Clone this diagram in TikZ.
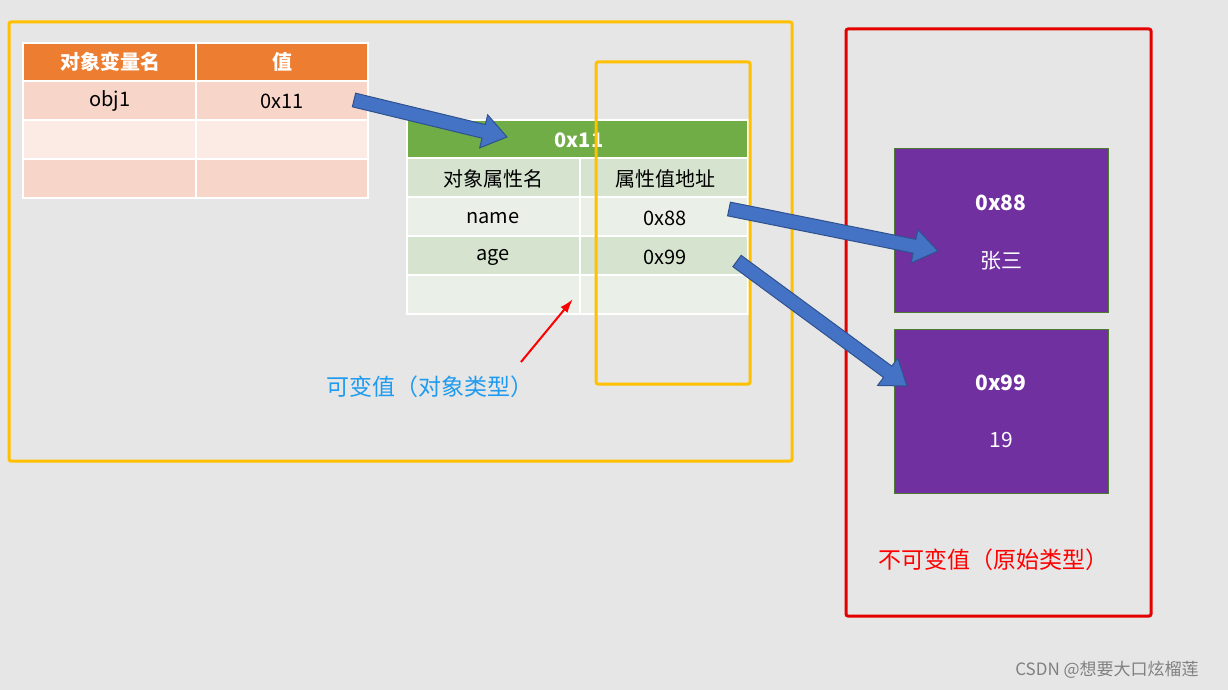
\documentclass[tikz,border=0pt]{standalone}
\usepackage{fontspec}
\setmainfont{Noto Sans CJK SC}
\usetikzlibrary{calc,arrows.meta}
\definecolor{bg}{HTML}{E6E6E6}
\definecolor{yel}{HTML}{FFC000}
\definecolor{ora}{HTML}{ED7D31}
\definecolor{oraA}{HTML}{F8D5C9}
\definecolor{oraB}{HTML}{FCEAE5}
\definecolor{grn}{HTML}{70AD47}
\definecolor{grnA}{HTML}{D6E3CF}
\definecolor{grnB}{HTML}{EAF0E7}
\definecolor{pur}{HTML}{7030A0}
\definecolor{blu}{HTML}{4472C4}
\definecolor{bludk}{HTML}{2F528F}
\definecolor{lbl}{HTML}{1E9BF0}
\newcommand{\blockarrow}[2]{%
  \coordinate (h) at ($(#2)!24pt!(#1)$);
  \fill[blu,draw=bludk,line width=1pt] ($(#1)!7pt!90:(#2)$) -- ($(h)!7pt!-90:(#1)$) -- ($(h)!17pt!-90:(#1)$) -- (#2) -- ($(h)!17pt!90:(#1)$) -- ($(h)!7pt!90:(#1)$) -- ($(#1)!7pt!-90:(#2)$) -- cycle;}
\begin{document}
\begin{tikzpicture}[x=1pt,y=-1pt,
  cell/.style={draw=white,line width=1.5pt},
  txt/.style={font=\fontsize{20}{24}\selectfont,text=black},
  htxt/.style={font=\fontsize{20}{24}\selectfont\bfseries,text=white},
  ptxt/.style={font=\fontsize{21}{24}\selectfont,text=white}]
\fill[bg] (0,0) rectangle (1228,690);
\useasboundingbox (0,0) rectangle (1228,690);
\draw[yel,line width=3pt,rounded corners=2pt] (9,22) rectangle (792,461);
\draw[red!90!black,line width=3pt,rounded corners=2pt] (846,29) rectangle (1151,616);
% table 1
\fill[ora,cell] (23,43) rectangle (196,81); \fill[ora,cell] (196,43) rectangle (368,81);
\foreach \y/\c in {81/oraA,120/oraB,159/oraA}{
  \fill[\c,cell] (23,\y) rectangle (196,\y+39); \fill[\c,cell] (196,\y) rectangle (368,\y+39);}
\node[htxt] (h1) at (110,62) {对象变量名};
\node[htxt] (h2) at (282,62) {值};
\node[txt] (o1) at (110,101) {obj1};
\node[txt] (o2) at (282,101) {0x11};
% table 2
\fill[grn,cell] (407,120) rectangle (748,158);
\foreach \y/\c in {158/grnA,197/grnB,236/grnA,275/grnB}{
  \fill[\c,cell] (407,\y) rectangle (580,\y+39); \fill[\c,cell] (580,\y) rectangle (748,\y+39);}
\node[htxt] (t0) at (579,140) {0x11};
\node[txt] (t1) at (493,179) {对象属性名};
\node[txt] (t2) at (665,179) {属性值地址};
\node[txt] (t3) at (493,218) {name};
\node[txt] (t4) at (665,218) {0x88};
\node[txt] (t5) at (493,257) {age};
\node[txt] (t6) at (665,257) {0x99};
\draw[yel,line width=3pt,rounded corners=2pt] (596,62) rectangle (750,384);
% purple boxes
\fill[pur,draw=grn!70!black,line width=1pt] (894,148) rectangle (1108,312);
\fill[pur,draw=grn!70!black,line width=1pt] (894,329) rectangle (1108,493);
\node[ptxt,font=\fontsize{21}{24}\selectfont\bfseries] (p1) at (1001,203) {0x88};
\node[ptxt] (p2) at (1001,261) {张三};
\node[ptxt,font=\fontsize{21}{24}\selectfont\bfseries] (p3) at (1001,383) {0x99};
\node[ptxt] (p4) at (1001,440) {19};
% arrows
\coordinate (a1) at (354,100); \coordinate (b1) at (507,137);
\coordinate (a2) at (729,209); \coordinate (b2) at (938,251);
\coordinate (a3) at (737,261); \coordinate (b3) at (907,386);
\blockarrow{a1}{b1}
\blockarrow{a2}{b2}
\blockarrow{a3}{b3}
\node[font=\fontsize{23}{26}\selectfont,text=lbl] (l1) at (430,387) {可变值（对象类型）};
\node[font=\fontsize{23}{26}\selectfont,text=red] (l2) at (993,560) {不可变值（原始类型）};
\coordinate (r1) at (521,362); \coordinate (r2) at (573,299);
\draw[red,line width=2pt,-{Latex[length=14pt,width=9pt]}] (r1) -- (r2);
\node[font=\fontsize{17}{20}\selectfont,text=gray] (w) at (1107,670) {CSDN @想要大口炫榴莲};
\end{tikzpicture}
\end{document}
